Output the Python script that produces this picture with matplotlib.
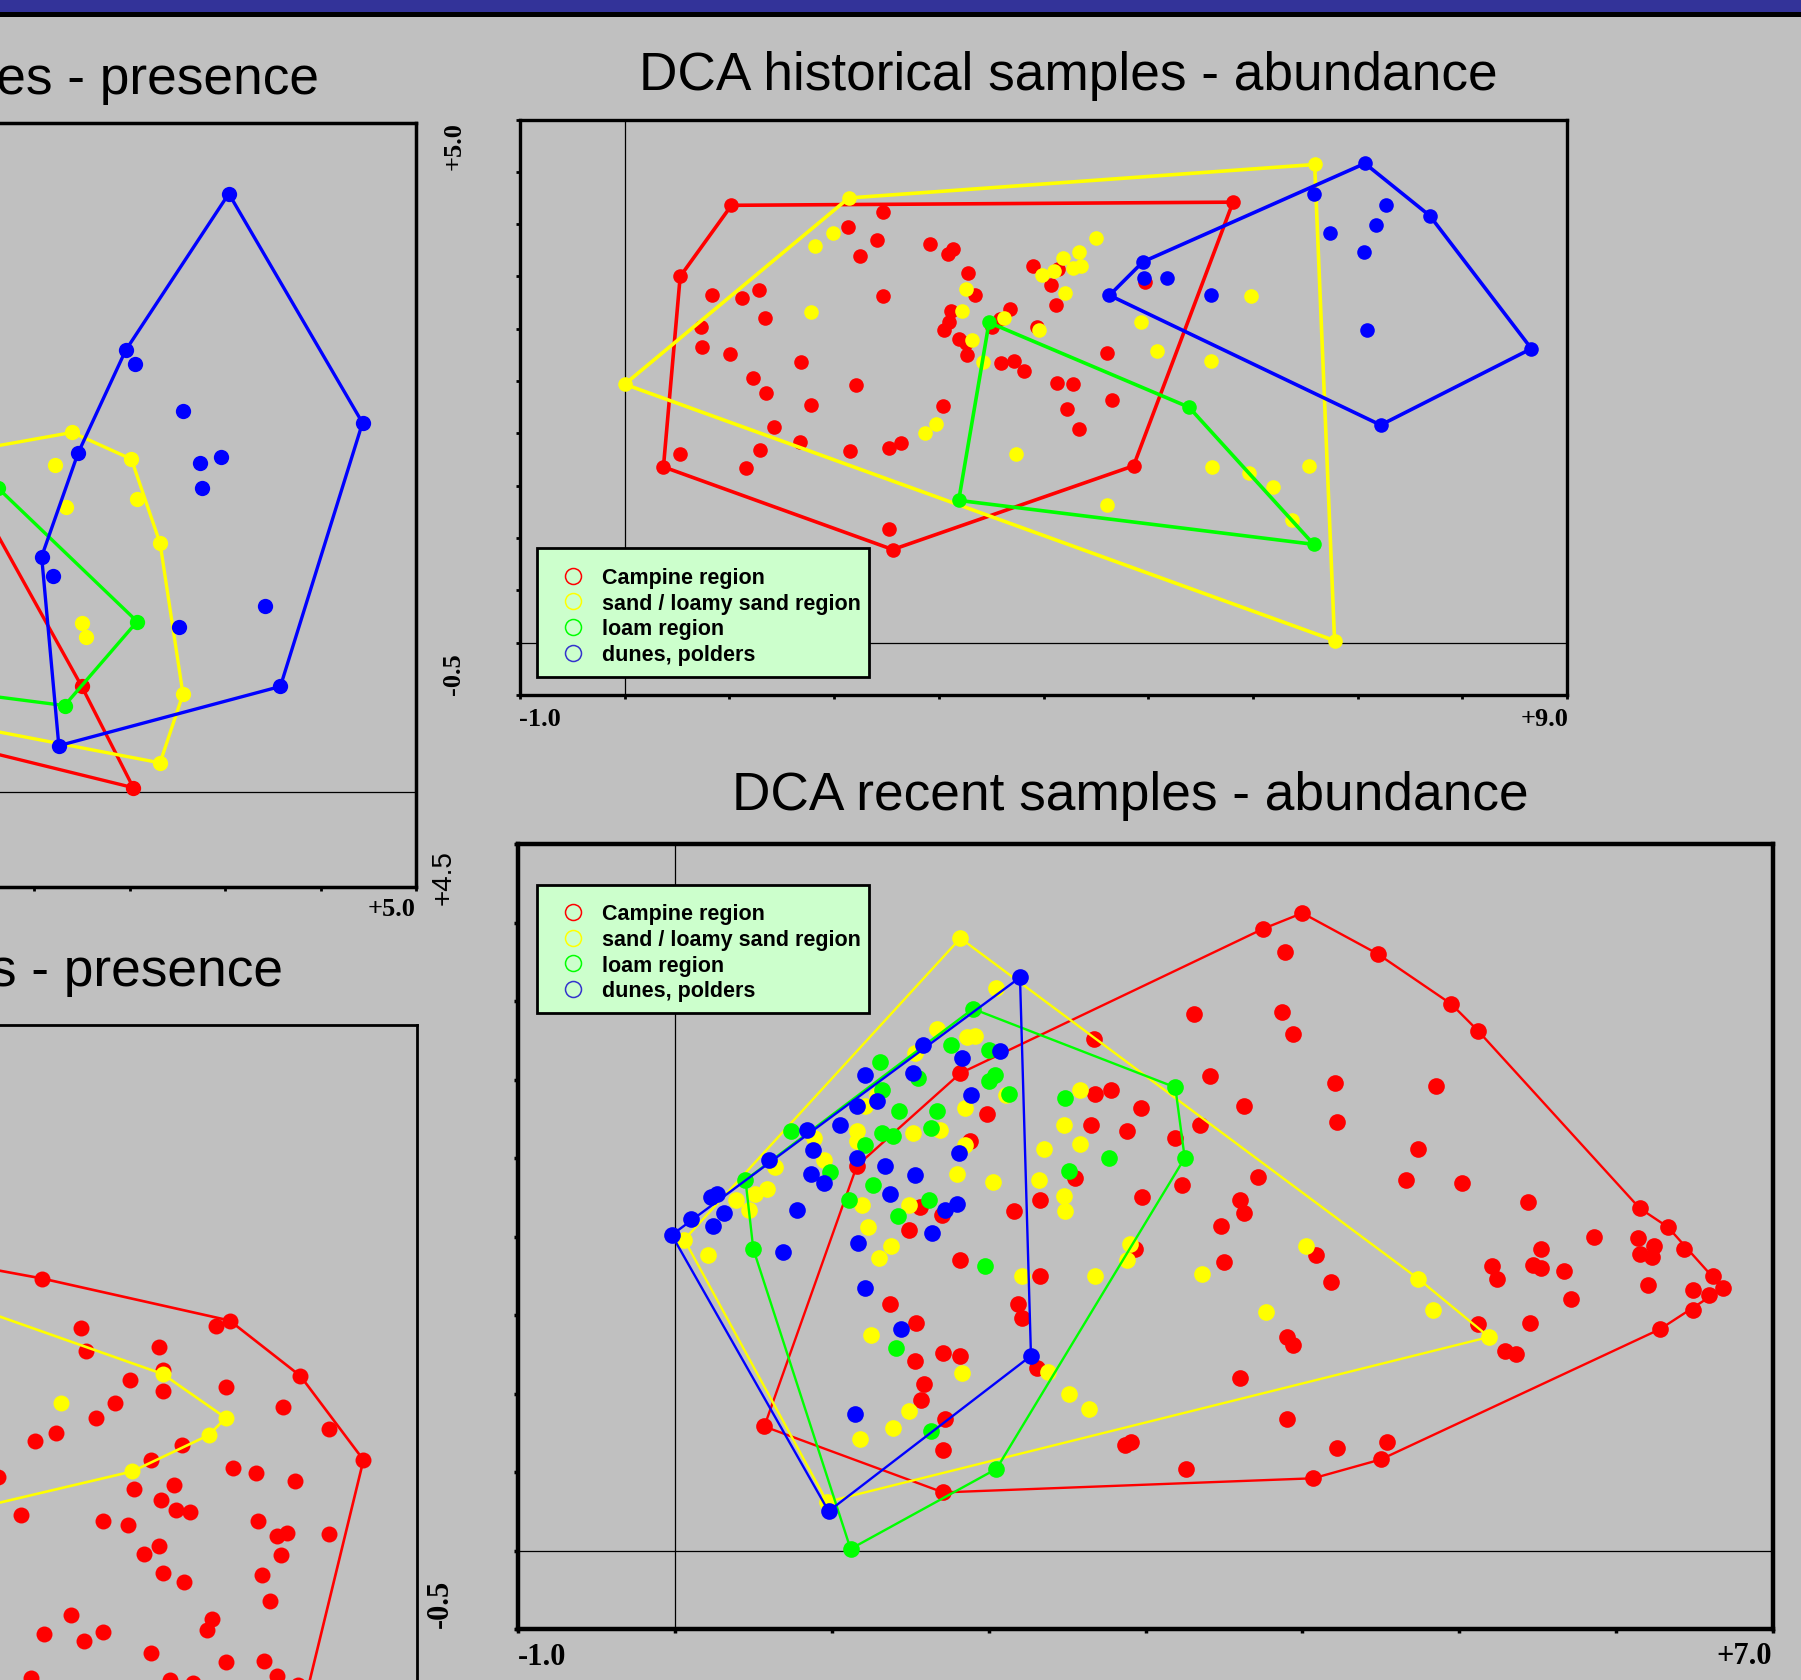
import numpy as np
import matplotlib.pyplot as plt
from matplotlib.patches import Rectangle
from matplotlib.lines import Line2D

W, H = 1801, 1681
BG = '#c0c0c0'

regions = ['Campine region', 'sand / loamy sand region', 'loam region', 'dunes, polders']
colors = ['#ff0000', '#ffff00', '#00ff00', '#0000ff']
key_colors = ['#ff0000', '#ffff00', '#00ff00', '#3333cc']

# ---- DCA historical samples - abundance (axis 1 / axis 2 scores) ----
hist_ab_campine_hull = [(1.02, 4.18), (5.81, 4.21), (4.86, 1.69), (2.56, 0.89), (0.37, 1.68), (0.53, 3.50)]
hist_ab_campine = [(2.47, 4.12), (2.13, 3.97), (2.41, 3.85), (2.25, 3.70), (2.92, 3.81), (3.09, 3.71),
                   (3.14, 3.76), (3.28, 3.53), (3.35, 3.32), (2.47, 3.31), (1.28, 3.37), (1.12, 3.29),
                   (0.83, 3.32), (1.34, 3.10), (0.73, 3.02), (0.74, 2.83), (1.01, 2.76), (1.68, 2.68),
                   (1.23, 2.53), (1.35, 2.39), (1.78, 2.27), (2.21, 2.46), (1.43, 2.06), (1.67, 1.92),
                   (1.29, 1.84), (1.16, 1.67), (0.53, 1.80), (2.15, 1.83), (2.52, 1.86), (2.64, 1.91),
                   (3.04, 2.26), (2.52, 1.09), (3.12, 3.17), (3.10, 3.06), (3.05, 2.99), (3.19, 2.90),
                   (3.27, 2.75), (3.26, 2.86), (3.68, 3.19), (3.58, 3.09), (3.51, 3.02), (3.59, 2.67),
                   (3.72, 2.69), (3.81, 2.60), (3.94, 3.02), (4.13, 2.48), (4.28, 2.47), (4.22, 2.23),
                   (4.34, 2.04), (4.65, 2.32), (4.61, 2.77), (3.90, 3.60), (4.14, 3.57), (4.07, 3.42),
                   (4.12, 3.23), (4.97, 3.45)]
hist_ab_sand_hull = [(0.00, 2.47), (2.14, 4.25), (6.59, 4.57), (6.78, 0.02)]
hist_ab_sand = [(1.82, 3.79), (1.99, 3.92), (1.78, 3.16), (3.26, 3.38), (3.22, 3.17), (3.62, 3.10),
                (3.32, 2.89), (3.42, 2.68), (3.96, 2.99), (4.19, 3.68), (4.34, 3.73), (4.36, 3.60),
                (4.28, 3.58), (4.10, 3.55), (3.99, 3.51), (4.21, 3.34), (4.50, 3.87), (4.93, 3.06),
                (5.08, 2.79), (5.60, 2.69), (5.98, 3.31), (5.61, 1.68), (5.96, 1.62), (6.19, 1.49),
                (6.54, 1.69), (6.37, 1.17), (4.61, 1.32), (3.74, 1.80), (2.97, 2.09), (2.87, 2.00)]
hist_ab_loam_hull = [(3.48, 3.06), (5.39, 2.25), (6.58, 0.94), (3.19, 1.36)]
hist_ab_loam = []
hist_ab_dunes_hull = [(4.63, 3.32), (4.95, 3.64), (7.07, 4.58), (7.69, 4.08), (8.66, 2.81), (7.22, 2.08)]
hist_ab_dunes = [(4.96, 3.49), (5.18, 3.49), (5.60, 3.32), (6.58, 4.29), (6.74, 3.92), (7.27, 4.18),
                 (7.18, 3.99), (7.06, 3.73), (7.09, 2.99)]

# ---- DCA recent samples - abundance ----
rec_ab_campine_hull = [(0.57, 0.79), (1.16, 2.45), (1.82, 3.04), (3.75, 3.96), (4.00, 4.06), (4.48, 3.80),
                       (4.95, 3.48), (5.12, 3.31), (6.15, 2.18), (6.33, 2.06), (6.68, 1.67), (6.28, 1.41),
                       (4.50, 0.58), (4.07, 0.46), (1.71, 0.37)]
rec_ab_campine = [(3.31, 3.42), (3.87, 3.43), (3.94, 3.29), (3.89, 3.81), (3.41, 3.02), (3.63, 2.83),
                  (4.21, 2.98), (4.85, 2.96), (4.22, 2.73), (4.74, 2.56), (4.66, 2.36), (5.02, 2.34),
                  (5.44, 2.22), (3.72, 2.38), (3.60, 2.23), (3.63, 2.15), (3.48, 2.07), (3.50, 1.84),
                  (4.09, 1.88), (4.18, 1.71), (5.21, 1.81), (5.24, 1.73), (5.47, 1.82), (5.52, 1.92),
                  (5.52, 1.80), (5.67, 1.78), (5.71, 1.60), (5.86, 2.00), (6.14, 1.99), (6.24, 1.94),
                  (6.23, 1.87), (6.15, 1.89), (6.43, 1.92), (6.20, 1.69), (6.49, 1.66), (6.59, 1.63),
                  (6.62, 1.75), (6.49, 1.53), (5.45, 1.45), (5.12, 1.44), (5.29, 1.27), (5.36, 1.25),
                  (3.90, 1.36), (3.94, 1.31), (3.60, 1.10), (3.90, 0.84), (4.22, 0.65), (4.54, 0.69),
                  (2.87, 0.67), (2.91, 0.69), (3.26, 0.52), (2.67, 3.26), (2.78, 2.93), (2.68, 2.91),
                  (2.97, 2.82), (2.65, 2.71), (2.88, 2.67), (3.19, 2.63), (3.35, 2.71), (3.23, 2.33),
                  (2.98, 2.25), (2.55, 2.37), (2.93, 1.92), (2.33, 2.23), (2.33, 1.75), (2.16, 2.16),
                  (1.99, 2.78), (1.88, 2.61), (1.82, 1.85), (1.70, 2.14), (1.49, 2.04), (1.56, 2.19),
                  (1.37, 1.57), (1.54, 1.45), (2.19, 1.57), (2.21, 1.48), (2.31, 1.16), (1.71, 1.26),
                  (1.82, 1.24), (1.53, 1.21), (1.59, 1.06), (1.57, 0.96), (1.72, 0.84), (1.71, 0.64)]
rec_ab_sand_hull = [(1.82, 3.90), (4.74, 1.73), (5.19, 1.36), (0.97, 0.31), (0.06, 1.98)]
rec_ab_sand = [(2.05, 3.58), (1.67, 3.32), (1.53, 3.17), (1.86, 3.27), (1.91, 3.28), (2.11, 2.90),
               (1.85, 2.82), (2.58, 2.93), (2.48, 2.71), (2.58, 2.59), (2.35, 2.56), (2.32, 2.36),
               (2.48, 2.26), (2.49, 2.16), (2.03, 2.35), (1.80, 2.40), (1.85, 2.58), (1.69, 2.68),
               (1.52, 2.66), (1.16, 2.67), (1.16, 2.61), (1.21, 2.83), (1.29, 2.90), (0.95, 2.49),
               (0.89, 2.63), (0.64, 2.44), (0.59, 2.30), (0.51, 2.27), (0.39, 2.23), (0.47, 2.17),
               (0.21, 1.88), (1.23, 2.06), (1.38, 1.94), (1.30, 1.86), (1.19, 2.20), (1.49, 2.20),
               (2.21, 1.75), (2.68, 1.75), (2.88, 1.85), (2.90, 1.95), (3.36, 1.76), (3.77, 1.52),
               (4.02, 1.94), (4.83, 1.53), (1.25, 1.37), (1.83, 1.13), (2.51, 1.00), (2.64, 0.90),
               (1.49, 0.89), (1.39, 0.78), (1.18, 0.71), (2.38, 1.14)]
rec_ab_loam_hull = [(1.90, 3.45), (3.19, 2.95), (3.25, 2.50), (2.05, 0.52), (1.12, 0.01), (0.50, 1.92),
                    (0.45, 2.36)]
rec_ab_loam = [(1.76, 3.22), (2.00, 3.19), (2.04, 3.03), (2.00, 2.99), (2.13, 2.91), (1.55, 3.01),
               (1.31, 3.11), (1.32, 2.93), (1.43, 2.80), (1.67, 2.80), (1.63, 2.69), (1.32, 2.66),
               (1.39, 2.64), (1.21, 2.58), (0.99, 2.41), (1.11, 2.23), (1.26, 2.33), (1.42, 2.13),
               (1.62, 2.23), (2.49, 2.88), (2.51, 2.42), (2.77, 2.50), (1.98, 1.81), (1.41, 1.29),
               (1.63, 0.76), (0.74, 2.67)]
rec_ab_dunes_hull = [(2.20, 3.65), (2.27, 1.24), (0.98, 0.25), (-0.02, 2.01)]
rec_ab_dunes = [(0.10, 2.11), (0.23, 2.25), (0.27, 2.27), (0.31, 2.15), (0.24, 2.07), (0.60, 2.49),
                (0.84, 2.68), (0.88, 2.55), (1.05, 2.71), (0.87, 2.40), (0.95, 2.34), (0.78, 2.17),
                (0.69, 1.90), (1.16, 2.83), (1.29, 2.86), (1.21, 3.03), (1.52, 3.04), (1.58, 3.22),
                (1.83, 3.14), (2.07, 3.18), (1.89, 2.90), (1.81, 2.53), (1.16, 2.50), (1.34, 2.45),
                (1.37, 2.27), (1.53, 2.39), (1.80, 2.21), (1.72, 2.17), (1.64, 2.02), (1.17, 1.96),
                (1.21, 1.67), (1.44, 1.41), (1.15, 0.87)]

# ---- DCA historical samples - presence ----
hist_pr_campine_hull = [(1.70, 3.34), (3.25, 0.55), (3.52, 0.02), (1.00, 0.64), (0.00, 1.80)]
hist_pr_campine = []
hist_pr_sand_hull = [(2.08, 1.68), (3.20, 1.88), (3.51, 1.74), (3.66, 1.30), (3.78, 0.51), (3.66, 0.15),
                     (1.99, 0.47)]
hist_pr_sand = [(3.11, 1.71), (3.17, 1.49), (3.54, 1.53), (3.25, 0.88), (3.27, 0.81)]
hist_pr_loam_hull = [(2.81, 1.59), (3.54, 0.89), (3.16, 0.45), (2.15, 0.58), (2.00, 2.00)]
hist_pr_loam = []
hist_pr_dunes_hull = [(4.02, 3.13), (4.72, 1.93), (4.29, 0.55), (3.13, 0.24), (3.04, 1.23), (3.23, 1.77),
                      (3.48, 2.31)]
hist_pr_dunes = [(3.53, 2.24), (3.78, 1.99), (3.87, 1.72), (3.98, 1.75), (3.88, 1.59), (3.10, 1.13),
                 (4.21, 0.97), (3.76, 0.86)]

# ---- DCA recent samples - presence ----
rec_pr_campine_hull = [(1.90, 2.38), (3.04, 2.17), (4.02, 1.95), (4.39, 1.66), (4.72, 1.22), (4.35, -0.30),
                       (0.50, -0.20), (0.00, 1.50)]
rec_pr_campine = [(3.24, 1.91), (3.27, 1.79), (3.65, 1.81), (3.67, 1.69), (3.67, 1.58), (3.50, 1.64),
                  (3.42, 1.52), (3.32, 1.44), (3.11, 1.36), (3.00, 1.32), (2.81, 1.13), (3.52, 1.07),
                  (3.61, 1.22), (3.77, 1.30), (3.73, 1.09), (3.66, 1.01), (3.74, 0.96), (3.81, 0.95),
                  (3.36, 0.90), (3.49, 0.88), (2.93, 0.93), (3.57, 0.73), (3.65, 0.77), (3.67, 0.63),
                  (3.78, 0.58), (4.00, 1.60), (4.30, 1.50), (4.54, 1.38), (4.04, 1.18), (4.16, 1.15),
                  (4.36, 1.11), (4.17, 0.90), (4.27, 0.82), (4.32, 0.84), (4.29, 0.72), (4.54, 0.83),
                  (4.19, 0.62), (4.23, 0.48), (3.93, 0.39), (3.90, 0.33), (3.19, 0.41), (3.05, 0.31),
                  (3.26, 0.27), (3.36, 0.32), (3.61, 0.21), (4.00, 0.16), (4.20, 0.17), (4.27, 0.09),
                  (2.98, 0.08), (3.71, 0.07), (3.83, 0.05), (4.38, 0.04), (3.95, 1.92)]
rec_pr_sand_hull = [(1.80, 2.33), (3.67, 1.67), (4.00, 1.44), (3.91, 1.35), (3.51, 1.16), (1.77, 0.75)]
rec_pr_sand = [(3.14, 1.52)]


def px_box(left, top, right, bottom):
    # pixel box (origin top-left) -> figure-fraction rect
    return [left / W, 1 - bottom / H, (right - left) / W, (bottom - top) / H]


def fx(x):
    return x / W


def fy(y):
    return 1 - y / H


fig = plt.figure(figsize=(W / 100, H / 100), dpi=100, facecolor=BG)

# title bar
fig.add_artist(Rectangle((0, fy(13.3)), 1, 13.3 / H, transform=fig.transFigure,
                         facecolor='#333399', edgecolor='none'))
fig.add_artist(Rectangle((0, fy(18.3)), 1, 5 / H, transform=fig.transFigure,
                         facecolor='black', edgecolor='none'))


def make_axes(rect, xlim, ylim, xstep, spine_w, tick_w):
    ax = fig.add_axes(rect)
    ax.set_facecolor(BG)
    ax.set_xlim(xlim)
    ax.set_ylim(ylim)
    ax.set_xticks(np.arange(xlim[0], xlim[1] + 0.01, xstep))
    ax.set_yticks(np.arange(ylim[0], ylim[1] + 0.01, 0.5))
    ax.tick_params(labelbottom=False, labelleft=False, direction='out',
                   length=3, width=tick_w, color='black')
    for s in ax.spines.values():
        s.set_linewidth(spine_w)
    ax.axhline(0, color='black', lw=0.9, zorder=1)
    ax.axvline(0, color='black', lw=0.9, zorder=1)
    return ax


def draw_group(ax, hull, pts, color, lw, ms, z):
    hx = [p[0] for p in hull] + [hull[0][0]]
    hy = [p[1] for p in hull] + [hull[0][1]]
    ax.plot(hx, hy, color=color, lw=lw, zorder=z)
    allp = hull + pts
    ax.plot([p[0] for p in allp], [p[1] for p in allp], 'o', color=color,
            ms=ms, mec='none', zorder=z + 0.5)


def draw_key(left, top):
    fig.add_artist(Rectangle((fx(left), fy(top + 128.4)), 332 / W, 128.4 / H,
                             transform=fig.transFigure, facecolor='#ccffcc',
                             edgecolor='black', lw=2.0, zorder=5))
    for i, (lab, col) in enumerate(zip(regions, key_colors)):
        yc = top + 27.4 + i * 25.6
        fig.add_artist(Line2D([fx(left + 35.4)], [fy(yc)], marker='o', ms=11.5, mfc='none',
                              mec=col, mew=1.1, transform=fig.transFigure, zorder=6))
        fig.text(fx(left + 65), fy(yc + 7.4), lab, fontsize=15.5, fontweight='bold',
                 family='Liberation Sans', va='baseline', ha='left', zorder=6)


serif = dict(family='Liberation Serif', fontweight='bold')
title_kw = dict(family='Liberation Sans', fontsize=38.3, va='baseline')

# historical abundance
ax1 = make_axes(px_box(520, 120.5, 1567, 696), (-1, 9), (-0.5, 5.0), 1.0, 2.4, 2.0)
groups1 = [(hist_ab_campine_hull, hist_ab_campine), (hist_ab_sand_hull, hist_ab_sand),
           (hist_ab_loam_hull, hist_ab_loam), (hist_ab_dunes_hull, hist_ab_dunes)]
for i, (hull, pts) in enumerate(groups1):
    draw_group(ax1, hull, pts, colors[i], 2.6, 10.5, 2 + i)
draw_key(537.3, 549.3)
fig.text(fx(1068.5), fy(90), 'DCA historical samples - abundance', ha='center', **title_kw)
fig.text(fx(519), fy(725.5), '-1.0', fontsize=19, ha='left', va='baseline', **serif)
fig.text(fx(1568), fy(725.5), '+9.0', fontsize=19, ha='right', va='baseline', **serif)
fig.text(fx(454), fy(122), '+5.0', fontsize=19, rotation=90, ha='center', va='top', **serif)
fig.text(fx(453), fy(695), '-0.5', fontsize=19, rotation=90, ha='center', va='bottom', **serif)

# recent abundance
ax2 = make_axes(px_box(518, 845, 1773, 1630), (-1, 7), (-0.5, 4.5), 1.0, 3.2, 2.5)
groups2 = [(rec_ab_campine_hull, rec_ab_campine), (rec_ab_sand_hull, rec_ab_sand),
           (rec_ab_loam_hull, rec_ab_loam), (rec_ab_dunes_hull, rec_ab_dunes)]
for i, (hull, pts) in enumerate(groups2):
    draw_group(ax2, hull, pts, colors[i], 1.7, 12, 2 + i)
draw_key(537.3, 885.7)
fig.text(fx(1130.5), fy(810), 'DCA recent samples - abundance', ha='center', **title_kw)
fig.text(fx(518), fy(1665), '-1.0', fontsize=22, ha='left', va='baseline', **serif)
fig.text(fx(1772), fy(1664), '+7.0', fontsize=22, ha='right', va='baseline', **serif)
fig.text(fx(444), fy(850), '+4.5', fontsize=20, rotation=90, ha='center', va='top',
         family='Liberation Sans')
fig.text(fx(440), fy(1628), '-0.5', fontsize=22, rotation=90, ha='center', va='bottom', **serif)

# historical presence
ax3 = make_axes(px_box(-730, 124, 416, 888), (-1, 5), (-0.5, 3.5), 0.5, 2.5, 2.0)
groups3 = [(hist_pr_campine_hull, hist_pr_campine), (hist_pr_sand_hull, hist_pr_sand),
           (hist_pr_loam_hull, hist_pr_loam), (hist_pr_dunes_hull, hist_pr_dunes)]
for i, (hull, pts) in enumerate(groups3):
    draw_group(ax3, hull, pts, colors[i], 2.4, 11, 2 + i)
fig.text(fx(319), fy(94), 'DCA historical samples - presence', ha='right', **title_kw)
fig.text(fx(415), fy(916), '+5.0', fontsize=19, ha='right', va='baseline', **serif)

# recent presence
ax4 = make_axes(px_box(-730, 1025.5, 417, 1789.5), (-1, 5), (-0.5, 3.5), 0.5, 2.0, 2.0)
groups4 = [(rec_pr_campine_hull, rec_pr_campine), (rec_pr_sand_hull, rec_pr_sand)]
for i, (hull, pts) in enumerate(groups4):
    draw_group(ax4, hull, pts, colors[i], 1.9, 11.5, 2 + i)
fig.text(fx(283), fy(986), 'DCA recent samples - presence', ha='right', **title_kw)

fig.savefig('out.png', dpi=100, facecolor=BG)
